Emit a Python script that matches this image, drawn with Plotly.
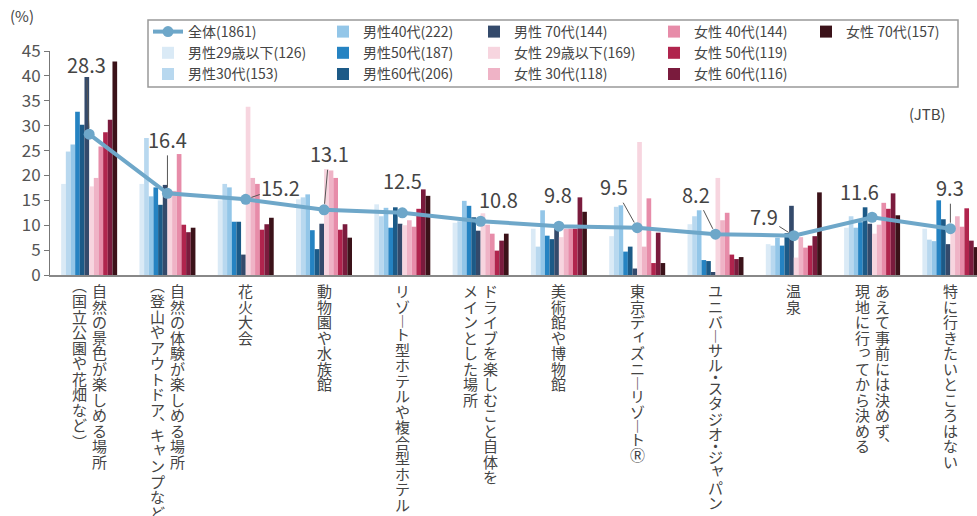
import plotly.graph_objects as go

FONT = "Noto Sans CJK JP"

# ---------------- data ----------------
categories = [
    "自然の景色が楽しめる場所（国立公園や花畑など）",
    "自然の体験が楽しめる場所（登山やアウトドア、キャンプなど）",
    "花火大会",
    "動物園や水族館",
    "リゾート型ホテルや複合型ホテル",
    "ドライブを楽しむこと自体をメインとした場所",
    "美術館や博物館",
    "東京ディズニーリゾートⓇ",
    "ユニバーサル・スタジオ・ジャパン",
    "温泉",
    "あえて事前には決めず、現地に行ってから決める",
    "特に行きたいところはない",
]
# vertical label columns (first column = rightmost)
label_columns = [
    ["自然の景色が楽しめる場所", "（国立公園や花畑など）"],
    ["自然の体験が楽しめる場所", "（登山やアウトドア、キャンプなど）"],
    ["花火大会"],
    ["動物園や水族館"],
    ["リゾート型ホテルや複合型ホテル"],
    ["ドライブを楽しむこと自体を", "メインとした場所"],
    ["美術館や博物館"],
    ["東京ディズニーリゾートⓇ"],
    ["ユニバーサル・スタジオ・ジャパン"],
    ["温泉"],
    ["あえて事前には決めず、", "現地に行ってから決める"],
    ["特に行きたいところはない"],
]

total = [28.3, 16.4, 15.2, 13.1, 12.5, 10.8, 9.8, 9.5, 8.2, 7.9, 11.6, 9.3]
m29 = [18.3, 18.3, 15.0, 15.2, 14.2, 10.5, 9.3, 7.8, 10.2, 6.2, 9.5, 9.3]
m30 = [24.8, 27.5, 18.3, 15.6, 11.8, 10.8, 5.7, 13.7, 11.8, 5.9, 11.8, 7.1]
m40 = [26.2, 15.8, 17.6, 16.2, 13.5, 14.9, 13.0, 14.0, 13.0, 7.5, 9.5, 6.8]
m50 = [32.8, 17.6, 10.7, 9.0, 9.5, 13.9, 7.9, 4.7, 3.0, 5.9, 10.6, 15.0]
m60 = [30.2, 14.1, 10.7, 5.2, 13.6, 11.6, 7.2, 5.7, 2.8, 8.4, 13.6, 11.2]
m70 = [39.8, 18.1, 4.1, 10.3, 10.3, 8.9, 9.3, 1.3, 0.6, 13.9, 10.3, 6.2]
f29 = [17.8, 16.9, 33.8, 21.3, 10.0, 12.4, 7.6, 26.7, 19.5, 3.5, 8.3, 8.8]
f30 = [19.5, 16.9, 19.5, 21.0, 11.0, 10.1, 9.3, 5.7, 11.0, 7.6, 10.1, 11.8]
f40 = [25.8, 24.3, 18.3, 19.5, 9.7, 8.3, 9.3, 15.4, 12.5, 5.5, 14.5, 9.7]
f50 = [28.7, 10.1, 9.1, 9.1, 13.3, 4.9, 9.3, 2.4, 4.1, 5.9, 13.3, 13.4]
f60 = [31.2, 8.6, 10.2, 10.2, 17.2, 6.9, 15.6, 8.5, 3.2, 7.8, 16.4, 6.9]
f70 = [42.9, 9.5, 11.5, 7.5, 15.9, 8.3, 12.7, 2.4, 3.6, 16.6, 12.0, 5.6]

total_name = "全体(1861)"
series_names = [
    "男性29歳以下(126)", "男性30代(153)", "男性40代(222)", "男性50代(187)",
    "男性60代(206)", "男性 70代(144)", "女性 29歳以下(169)", "女性 30代(118)",
    "女性 40代(144)", "女性 50代(119)", "女性 60代(116)", "女性 70代(157)",
]
series_values = [m29, m30, m40, m50, m60, m70, f29, f30, f40, f50, f60, f70]
series_colors = [
    "#daeaf6", "#b8d8ef", "#93c6e8", "#2583c2", "#1c5a87", "#344a6b",
    "#f7d5df", "#efb3c6", "#e78ca9", "#b0244d", "#7a1b3d", "#3b1219",
]
series_legend = ["legend", "legend", "legend2", "legend2", "legend2", "legend3",
                 "legend3", "legend3", "legend4", "legend4", "legend4", "legend5"]

# label offsets (text centre relative to point, px) and whether a leader line is drawn
label_ax = [-3, 0, 35, 5, 0, 18, -1, -23, -20, -30, -13, 0]
label_ay = [-70, -54, -12, -56, -32, -22, -32, -41, -40, -19, -26, -41]
label_leader = [True, True, True, True, False, False, False, True, True, True, False, True]

# ---------------- figure ----------------
fig = go.Figure()

fig.add_trace(go.Scatter(
    x=categories, y=total, name=total_name, mode="lines+markers",
    line=dict(color="#6ea7c9", width=4),
    marker=dict(color="#6ea7c9", size=11),
    legend="legend",
))
for name, vals, col, lg in zip(series_names, series_values, series_colors, series_legend):
    fig.add_trace(go.Bar(x=categories, y=vals, name=name, marker_color=col,
                         marker_line_width=0, legend=lg))

annotations = []
for cat, v, ax, ay, ld in zip(categories, total, label_ax, label_ay, label_leader):
    annotations.append(dict(
        x=cat, y=v, xref="x", yref="y", text=f"{v:.1f}", showarrow=True,
        ax=ax, ay=ay, arrowhead=0, arrowwidth=1,
        arrowcolor="#555555" if ld else "rgba(0,0,0,0)",
        standoff=6, font=dict(family=FONT, size=20, color="#444444"),
    ))

# vertical category labels
VERT = {"ー": "︱", "（": "︵", "）": "︶", "、": "︑"}
SMALL = set("ッャュョィァゥェォっゃゅょ")
PITCH = 15.5
SHORT = {"・": 7.0, "ー": 12.0, "（": 10.0, "）": 10.0, "、": 10.0}
for cat, cols in zip(categories, label_columns):
    offs = [0] if len(cols) == 1 else [10, -10]
    for col_text, dx in zip(cols, offs):
        cum = 0.0
        for ch in col_text:
            h = SHORT.get(ch, PITCH)
            xs, ys = dx, -(8 + cum + h / 2)
            if ch in SMALL:
                xs += 2
                ys += 3
            if ch == "（":
                ys += 4
            if ch == "）":
                ys -= 4
            annotations.append(dict(
                x=cat, y=0, xref="x", yref="paper", text=VERT.get(ch, ch),
                showarrow=False, xshift=xs, yshift=ys, xanchor="center", yanchor="middle",
                font=dict(family=FONT, size=15, color="#444444"),
            ))
            cum += h

annotations.append(dict(x=-0.03, y=1.16, xref="paper", yref="paper", text="(%)",
                        showarrow=False, xanchor="center", yanchor="middle",
                        font=dict(family=FONT, size=15, color="#444444")))
annotations.append(dict(x=0.947, y=0.719, xref="paper", yref="paper", text="(JTB)",
                        showarrow=False, xanchor="center", yanchor="middle",
                        font=dict(family=FONT, size=15, color="#444444")))

legend_common = dict(xref="container", yref="container", xanchor="left", yanchor="top",
                     orientation="v", bgcolor="rgba(0,0,0,0)", borderwidth=0,
                     font=dict(family=FONT, size=14, color="#444444"),
                     itemwidth=30, tracegroupgap=0)
leg_y = 1 - 16 / 516
fig.update_layout(
    width=977, height=516,
    margin=dict(l=50, r=0, t=51, b=241, autoexpand=False),
    paper_bgcolor="white", plot_bgcolor="white",
    barmode="group", bargap=0.285, bargroupgap=0,
    showlegend=True,
    legend=dict(x=148 / 977, y=leg_y, **legend_common),
    legend2=dict(x=323 / 977, y=leg_y, **legend_common),
    legend3=dict(x=474 / 977, y=leg_y, **legend_common),
    legend4=dict(x=654 / 977, y=leg_y, **legend_common),
    legend5=dict(x=806 / 977, y=leg_y, **legend_common),
    xaxis=dict(type="category", range=[-0.5, 11.34], showticklabels=False,
               showline=True, linecolor="#888888", linewidth=2, ticks="",
               showgrid=False, zeroline=False),
    yaxis=dict(range=[0, 45], dtick=5, showline=True, linecolor="#777777", linewidth=1,
               ticks="outside", ticklen=5, tickcolor="#777777", showgrid=False,
               zeroline=False, tickfont=dict(family=FONT, size=17, color="#555555")),
    annotations=annotations,
    shapes=[dict(type="rect", xref="paper", yref="paper",
                 x0=(148 - 50) / 927, x1=(958 - 50) / 927,
                 y0=(275 - 87) / 224, y1=(275 - 20) / 224,
                 line=dict(color="#999999", width=1.5), fillcolor="rgba(0,0,0,0)")],
    font=dict(family=FONT, color="#444444"),
)

fig.write_html("out.html")
